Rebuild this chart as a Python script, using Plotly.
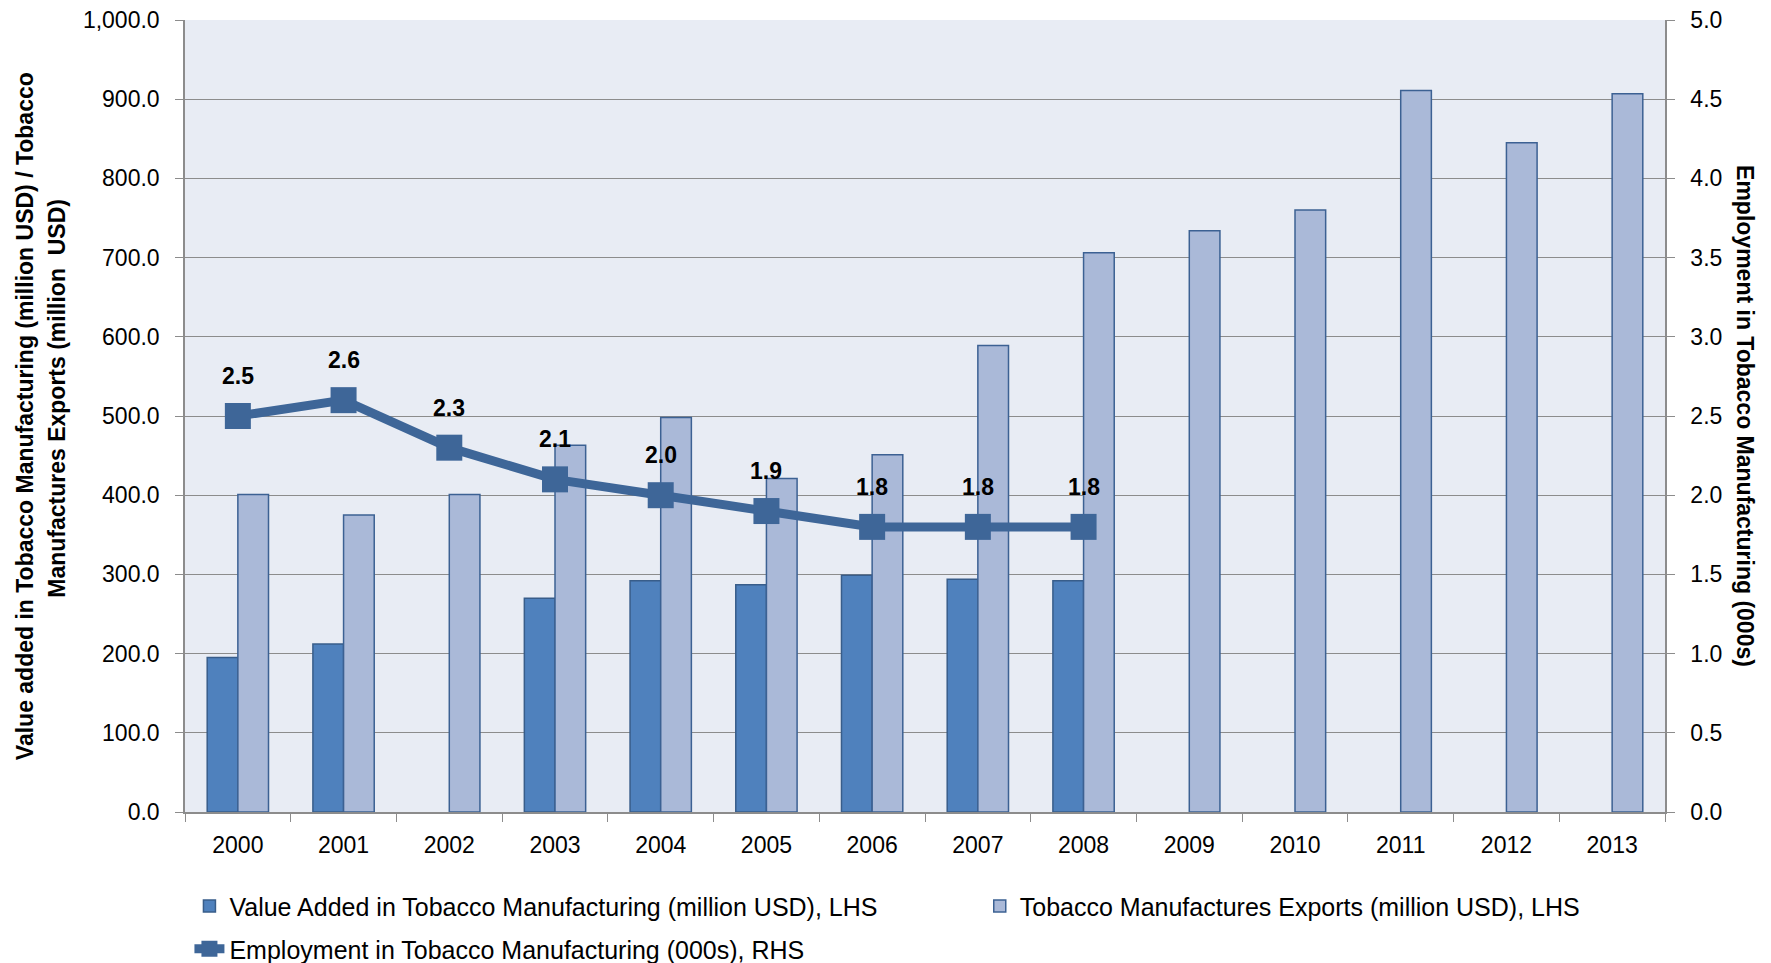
import plotly.graph_objects as go

years = ["2000", "2001", "2002", "2003", "2004", "2005", "2006",
         "2007", "2008", "2009", "2010", "2011", "2012", "2013"]
value_added = [195, 212, None, 270, 292, 287, 299, 294, 292,
               None, None, None, None, None]
exports = [401, 375, 401, 463, 498, 421, 451, 589, 706,
           734, 760, 911, 845, 907]
employment = [2.5, 2.6, 2.3, 2.1, 2.0, 1.9, 1.8, 1.8, 1.8]

FONT = "Liberation Sans, Arial, sans-serif"
GRID = "#8c8c8c"

fig = go.Figure()
fig.add_trace(go.Bar(
    x=years, y=value_added,
    name="Value Added in Tobacco Manufacturing (million USD), LHS",
    marker={"color": "#4f81bd", "line": {"color": "#385d8a", "width": 1.5}},
    legend="legend",
))
fig.add_trace(go.Bar(
    x=years, y=exports,
    name="Tobacco Manufactures Exports (million USD), LHS",
    marker={"color": "#aab9d8", "line": {"color": "#3c6193", "width": 1.5}},
    legend="legend2",
))
fig.add_trace(go.Scatter(
    x=years[:len(employment)], y=employment,
    name="Employment in Tobacco Manufacturing (000s), RHS",
    mode="lines+markers",
    yaxis="y2",
    line={"color": "#3e6698", "width": 9},
    marker={"symbol": "square", "size": 26, "color": "#3e6698"},
    legend="legend3",
))

annotations = []
# category axis -> annotations use the category index
for i, v in enumerate(employment):
    annotations.append(dict(
        x=i, y=v, xref="x", yref="y2", text=f"<b>{v:.1f}</b>",
        showarrow=False, yshift=40, font={"size": 23, "color": "black", "family": FONT},
    ))
title_font = {"size": 23, "color": "black", "family": FONT}
annotations += [
    dict(x=-0.108, y=0.5, xref="paper", yref="paper", xanchor="center", yanchor="middle",
         textangle=-90, showarrow=False,
         text="<b>Value added in Tobacco Manufacturing (million USD) / Tobacco</b>",
         font=title_font),
    dict(x=-0.0865, y=0.523, xref="paper", yref="paper", xanchor="center", yanchor="middle",
         textangle=-90, showarrow=False,
         text="<b>Manufactures Exports (million  USD)</b>",
         font=title_font),
    dict(x=1.054, y=0.5, xref="paper", yref="paper", xanchor="center", yanchor="middle",
         textangle=90, showarrow=False,
         text="<b>Employment in Tobacco Manufacturing (000s)</b>",
         font=title_font),
]

legend_common = {
    "orientation": "h", "xanchor": "left", "yanchor": "middle",
    "font": {"size": 25}, "bgcolor": "rgba(0,0,0,0)",
}

fig.update_layout(
    width=1771, height=963,
    # page body has an 8px margin, so shift the plot area up/left by 8px
    margin={"l": 177, "r": 114, "t": 12, "b": 159, "autoexpand": False},
    paper_bgcolor="white",
    plot_bgcolor="#e8ecf4",
    barmode="group",
    bargap=0.42,
    bargroupgap=0,
    font={"family": FONT, "size": 23, "color": "black"},
    showlegend=True,
    annotations=annotations,
    xaxis={
        "type": "category", "range": [-0.5, len(years) - 0.5],
        "showgrid": False, "ticks": "outside", "tickson": "boundaries",
        "ticklen": 8, "tickcolor": GRID, "showline": True, "linecolor": GRID, "linewidth": 1.5,
        "tickfont": {"size": 23}, "tickangle": 0, "automargin": False,
        "ticklabelstandoff": 12,
    },
    yaxis={
        "range": [0, 1000], "dtick": 100, "tickformat": ",.1f", "showgrid": True,
        "gridcolor": GRID, "gridwidth": 1.3, "ticks": "outside", "ticklen": 8,
        "tickcolor": GRID, "showline": True, "linecolor": GRID, "linewidth": 1.5,
        "zeroline": False, "tickfont": {"size": 23}, "automargin": False,
        "ticklabelstandoff": 11, "ticklabeloverflow": "allow",
    },
    yaxis2={
        "range": [0, 5], "dtick": 0.5, "tickformat": ".1f", "overlaying": "y",
        "side": "right", "showgrid": False, "ticks": "outside", "ticklen": 8,
        "tickcolor": GRID, "showline": True, "linecolor": GRID, "linewidth": 1.5,
        "zeroline": False, "tickfont": {"size": 23}, "automargin": False,
        "ticklabelstandoff": 11, "ticklabeloverflow": "allow",
    },
    legend={**legend_common, "x": 0.003, "y": -0.119},
    legend2={**legend_common, "x": 0.537, "y": -0.119},
    legend3={**legend_common, "x": 0.003, "y": -0.173},
)

fig.write_html("out.html")
